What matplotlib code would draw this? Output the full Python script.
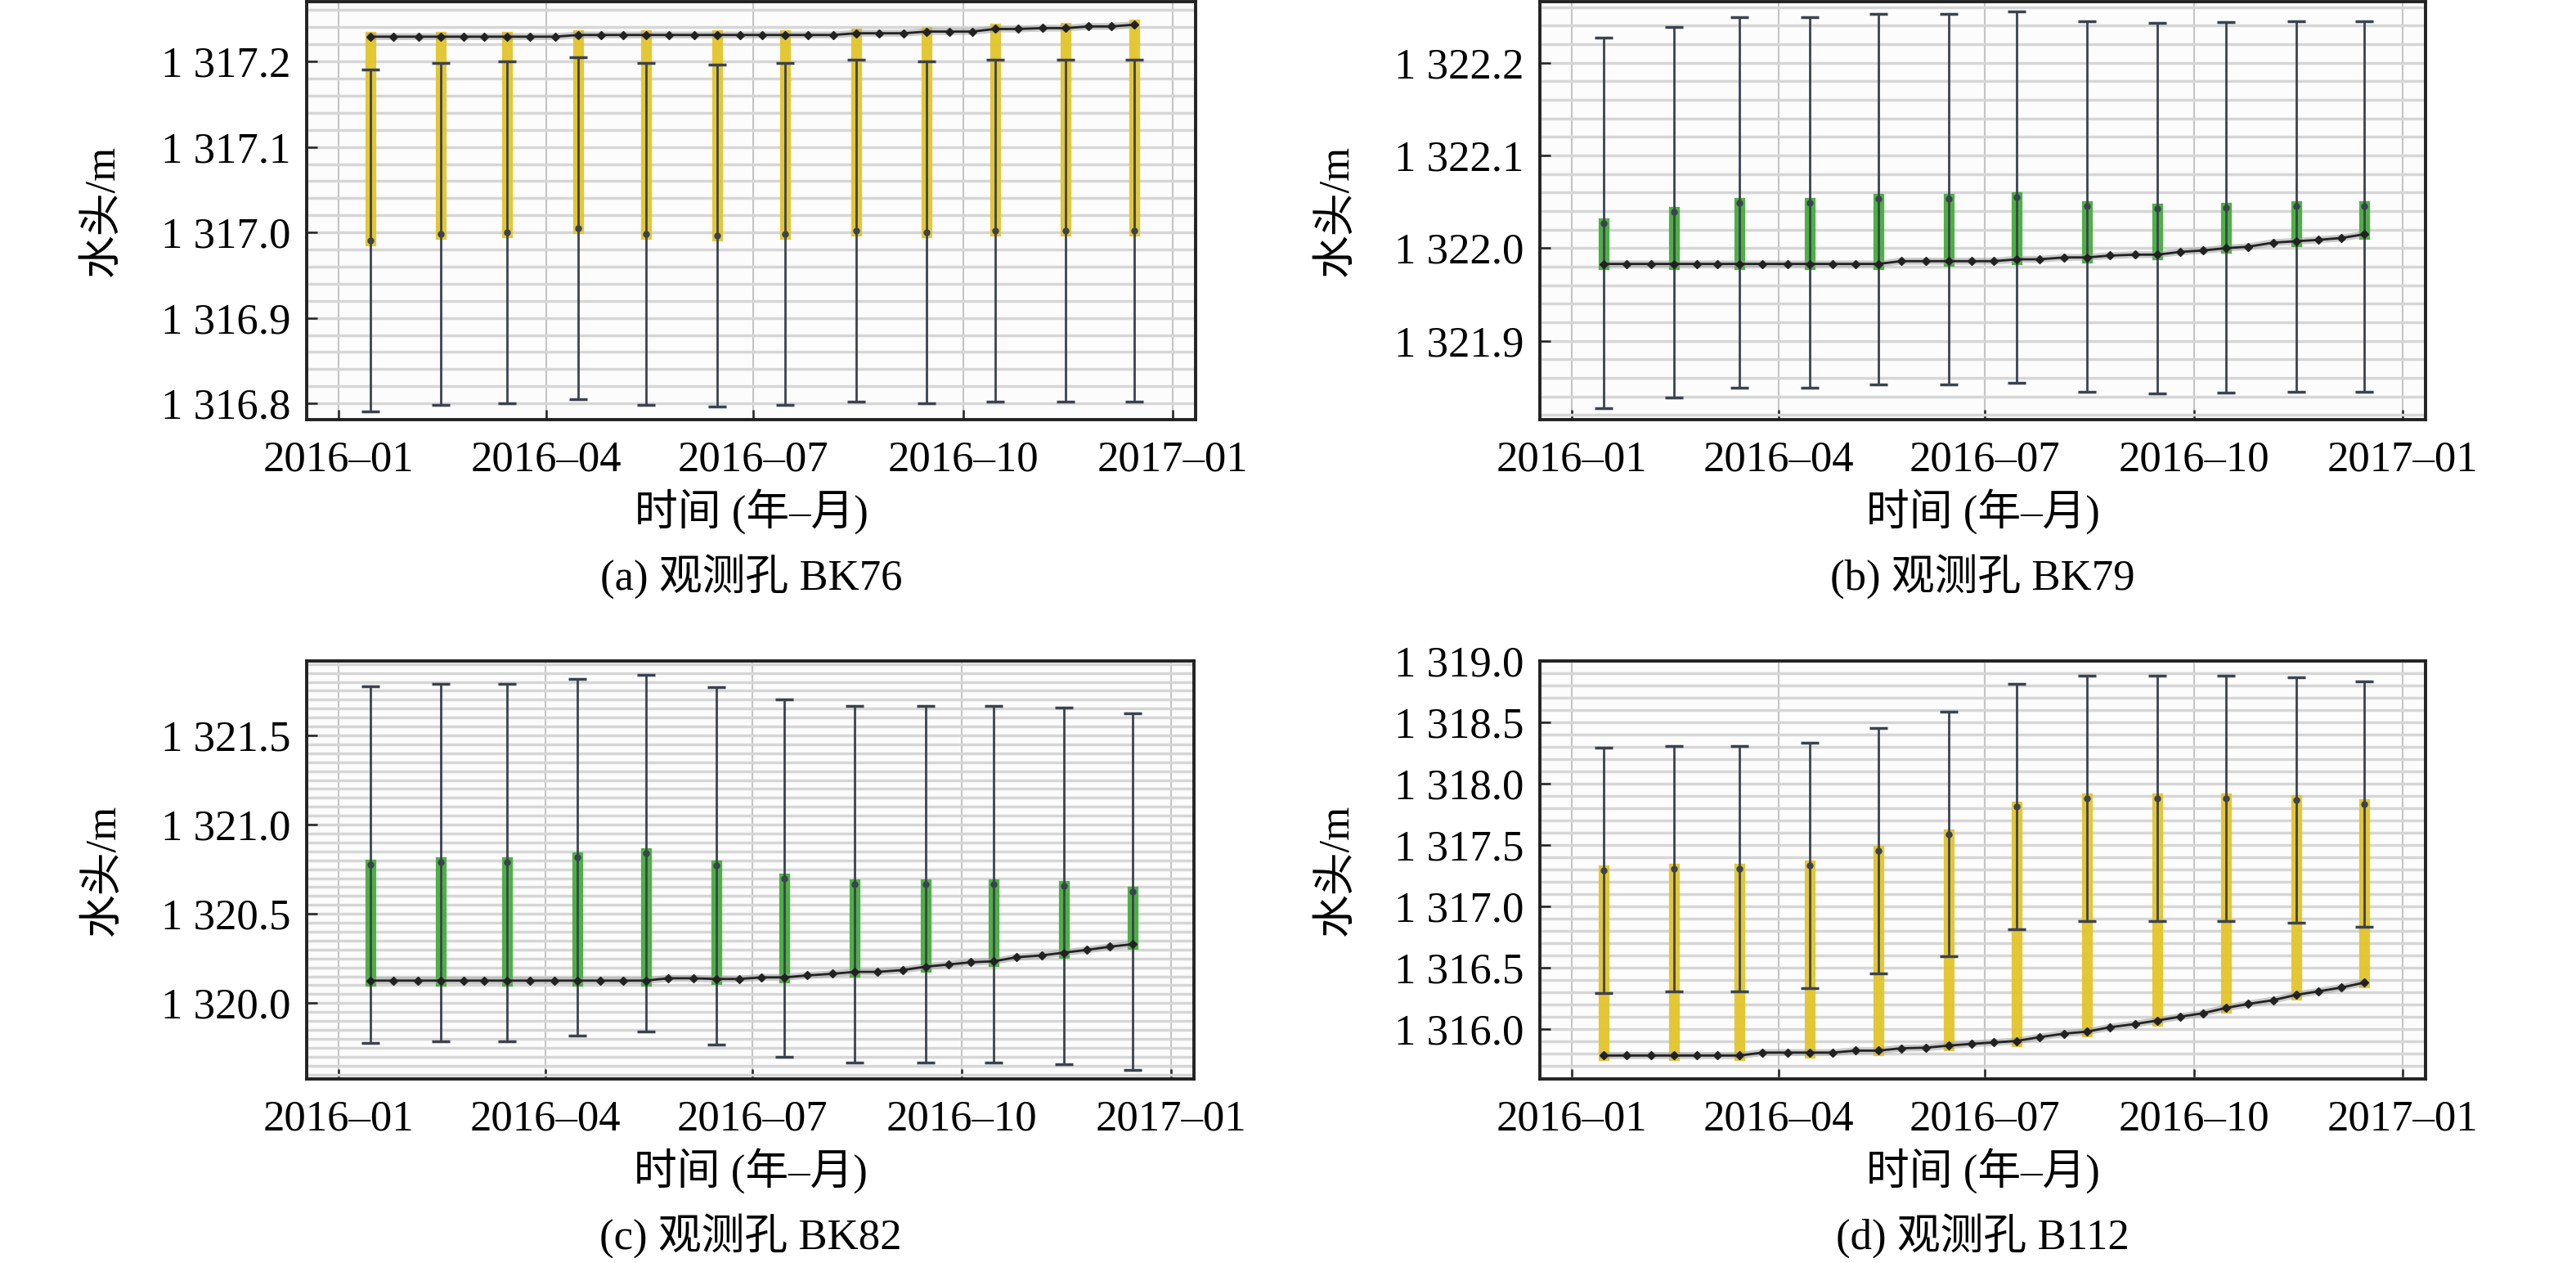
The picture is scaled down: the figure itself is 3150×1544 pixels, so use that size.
import numpy as np
import pandas as pd
import matplotlib
matplotlib.use("Agg")
import matplotlib.pyplot as plt
import matplotlib.dates as mdates
from matplotlib.ticker import MultipleLocator, FuncFormatter

plt.rcParams['font.family'] = ['Liberation Serif', 'Noto Sans CJK SC']
plt.rcParams['font.size'] = 38
plt.rcParams['axes.unicode_minus'] = False

# 月中预测点 + 旬观测序列 (2016-01-15 ... 2016-12-15)
pred_dates = pd.to_datetime([f"2016-{m:02d}-15" for m in range(1, 13)])
obs_dates = pd.to_datetime([f"2016-{m:02d}-{d:02d}" for m in range(1, 13) for d in (5, 15, 25)])[1:-1]

# (a) BK76
bk76_obs = [1317.229, 1317.229, 1317.229, 1317.229, 1317.229, 1317.229, 1317.229, 1317.229, 1317.229,
            1317.231, 1317.231, 1317.231, 1317.231, 1317.231, 1317.231, 1317.231, 1317.231, 1317.231,
            1317.231, 1317.231, 1317.231, 1317.233, 1317.233, 1317.233, 1317.235, 1317.235, 1317.235,
            1317.238, 1317.238, 1317.239, 1317.239, 1317.241, 1317.241, 1317.243]
bk76_pred = [1316.991, 1316.998, 1317.000, 1317.005, 1316.998, 1316.996,
             1316.998, 1317.002, 1317.000, 1317.002, 1317.002, 1317.002]
bk76_err = 0.2

# (b) BK79
bk79_obs = [1321.983, 1321.983, 1321.983, 1321.983, 1321.983, 1321.983, 1321.983, 1321.983, 1321.983,
            1321.983, 1321.983, 1321.983, 1321.983, 1321.986, 1321.986, 1321.986, 1321.986, 1321.986,
            1321.988, 1321.988, 1321.990, 1321.990, 1321.992, 1321.993, 1321.993, 1321.996, 1321.9975,
            1322.000, 1322.0016, 1322.006, 1322.0075, 1322.009, 1322.011, 1322.015]
bk79_pred = [1322.027, 1322.039, 1322.049, 1322.049, 1322.053, 1322.053,
             1322.055, 1322.045, 1322.043, 1322.044, 1322.045, 1322.045]
bk79_err = 0.2

# (c) BK82
bk82_obs = [1320.126, 1320.126, 1320.126, 1320.126, 1320.126, 1320.126, 1320.126, 1320.126, 1320.126,
            1320.126, 1320.126, 1320.126, 1320.126, 1320.139, 1320.139, 1320.135, 1320.135, 1320.144,
            1320.144, 1320.155, 1320.164, 1320.175, 1320.175, 1320.185, 1320.204, 1320.216, 1320.229,
            1320.234, 1320.257, 1320.267, 1320.283, 1320.298, 1320.316, 1320.330]
bk82_pred = [1320.777, 1320.788, 1320.788, 1320.818, 1320.839, 1320.769,
             1320.700, 1320.667, 1320.667, 1320.667, 1320.658, 1320.625]
bk82_err = 1.0

# (d) B112
b112_obs = [1315.781, 1315.781, 1315.781, 1315.781, 1315.781, 1315.781, 1315.781, 1315.805, 1315.805,
            1315.805, 1315.805, 1315.821, 1315.821, 1315.840, 1315.845, 1315.862, 1315.876, 1315.888,
            1315.900, 1315.931, 1315.960, 1315.976, 1316.012, 1316.038, 1316.067, 1316.098, 1316.126,
            1316.169, 1316.202, 1316.233, 1316.276, 1316.305, 1316.336, 1316.376]
b112_pred = [1317.293, 1317.305, 1317.305, 1317.333, 1317.452, 1317.588,
             1317.810, 1317.881, 1317.881, 1317.881, 1317.864, 1317.833]
b112_err = 1.0

panels = [
    ("(a) 观测孔 BK76", bk76_obs, bk76_pred, bk76_err, "#e3c52a", (1316.781, 1317.27), 0.1, 0.02),
    ("(b) 观测孔 BK79", bk79_obs, bk79_pred, bk79_err, "#45ad3b", (1321.815, 1322.266), 0.1, 0.02),
    ("(c) 观测孔 BK82", bk82_obs, bk82_pred, bk82_err, "#45ad3b", (1319.575, 1321.917), 0.5, 0.05),
    ("(d) 观测孔 B112", b112_obs, b112_pred, b112_err, "#e3c52a", (1315.59, 1319.0), 0.5, 0.1),
]

W, H = 3150, 1544
fig = plt.figure(figsize=(W / 100, H / 100), dpi=100)

# axes boxes in pixels: left, top, right, bottom
boxes = [(375, 2, 1462, 513), (1883, 2, 2966, 513),
         (375, 808, 1460, 1319), (1883, 808, 2966, 1319)]

for (caption, obs, pred, err, col, ylim, major, minor), (l, t, r, b) in zip(panels, boxes):
    ax = fig.add_axes([l / W, 1 - b / H, (r - l) / W, (b - t) / H])
    ax.set_facecolor("#fcfcfc")

    obs = np.array(obs)
    pred = np.array(pred)
    obs_at_pred = obs[::3]

    ax.vlines(pred_dates, np.minimum(pred, obs_at_pred), np.maximum(pred, obs_at_pred),
              colors=col, linewidth=9.5, alpha=0.95, capstyle="projecting", zorder=2)
    ax.errorbar(pred_dates, pred, yerr=err, fmt="o", color="#3b4250", ms=5,
                elinewidth=2, capsize=8, capthick=2.5, zorder=3)
    ax.plot(obs_dates, obs, color="#9a9a9a", lw=6, alpha=0.5, zorder=5)
    ax.plot(obs_dates, obs, color="#222222", lw=2, marker="D", ms=5, zorder=6)

    ax.set_xlim(pd.Timestamp("2015-12-18"), pd.Timestamp("2017-01-11"))
    ax.set_ylim(*ylim)
    ax.xaxis.set_major_locator(mdates.MonthLocator(bymonth=[1, 4, 7, 10]))
    ax.xaxis.set_major_formatter(mdates.DateFormatter("%Y–%m"))
    ax.yaxis.set_major_locator(MultipleLocator(major))
    ax.yaxis.set_minor_locator(MultipleLocator(minor))
    ax.yaxis.set_major_formatter(FuncFormatter(lambda v, p: f"{v:,.1f}".replace(",", " ")))

    ax.grid(axis="x", which="major", color="#c4c4c4", lw=1.5, zorder=0)
    ax.grid(axis="y", which="both", color="#d6d6d6", lw=2.5, zorder=0)
    ax.set_axisbelow(True)

    ax.tick_params(axis="both", which="major", direction="in", length=9, width=1.8,
                   labelsize=38, color="#222222")
    ax.tick_params(axis="x", pad=18)
    ax.tick_params(axis="y", pad=14)
    ax.tick_params(axis="y", which="minor", length=0)
    for s in ax.spines.values():
        s.set_linewidth(2.8)
        s.set_color("#222222")

    ax.set_ylabel("水头/m", fontsize=38)
    ax.yaxis.set_label_coords(-0.207, 0.5)

    cx = (l + r) / 2 / W
    fig.text(cx, 1 - (b + 112) / H, "时间 (年–月)", ha="center", va="center", fontsize=38)
    fig.text(cx, 1 - (b + 192) / H, caption, ha="center", va="center", fontsize=38)

fig.savefig("out.png", dpi=100)
